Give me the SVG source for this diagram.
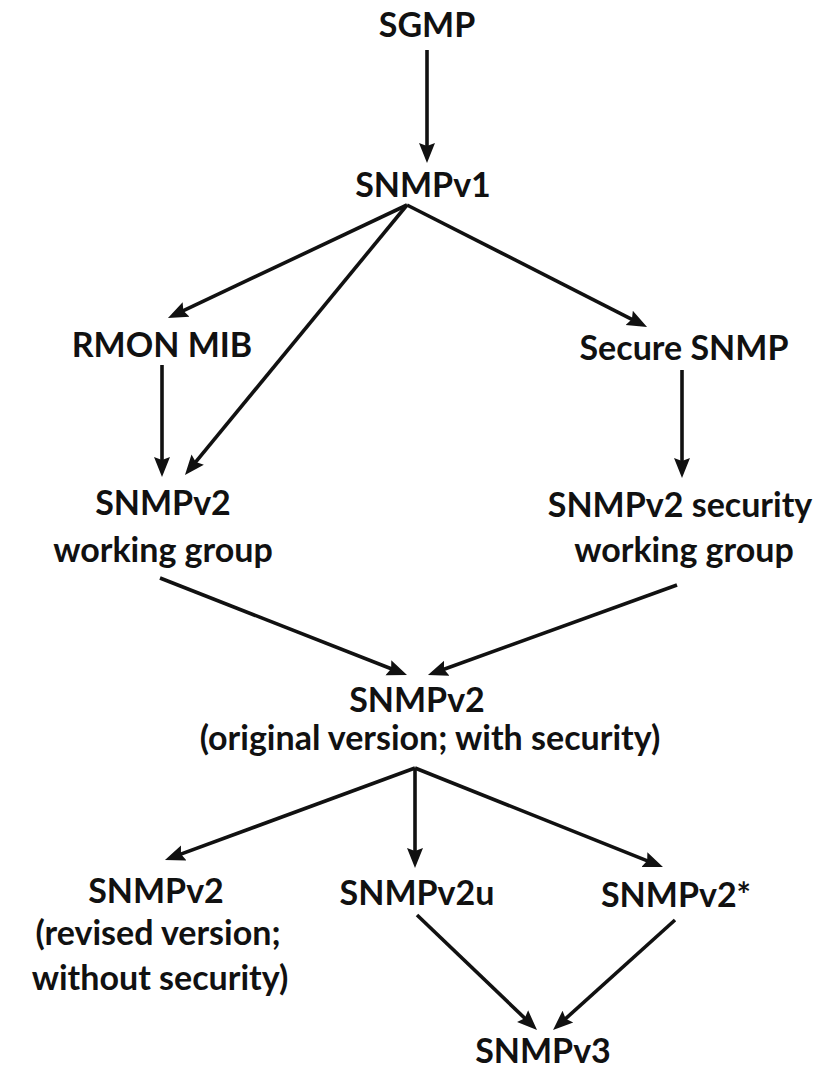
<svg xmlns="http://www.w3.org/2000/svg" width="826" height="1071" viewBox="0 0 826 1071">
  <style>
    .lbl { font-family: Lato, "Open Sans", "Liberation Sans", sans-serif; font-weight: bold; font-size: 34px; fill: #111111; text-anchor: middle; }
    .edge { stroke: #111111; stroke-width: 3.6; fill: none; marker-end: url(#head); }
  </style>
  <defs>
    <marker id="head" markerUnits="userSpaceOnUse" markerWidth="21" markerHeight="18" viewBox="0 0 21 18" refX="14" refY="9" orient="auto">
      <path d="M0,1 L20,9 L0,17 L3,9 Z" fill="#111111"/>
    </marker>
  </defs>
  <rect width="826" height="1071" fill="#ffffff"/>

  <g id="connectors">
    <line class="edge" x1="427" y1="50" x2="427" y2="157"/>
    <line class="edge" x1="407" y1="205" x2="173.4" y2="315.4"/>
    <line class="edge" x1="407" y1="205" x2="188.8" y2="470.4"/>
    <line class="edge" x1="407" y1="205" x2="641.7" y2="324.3"/>
    <line class="edge" x1="162" y1="365" x2="162" y2="471"/>
    <line class="edge" x1="682" y1="370" x2="682" y2="472"/>
    <line class="edge" x1="160" y1="578" x2="401.4" y2="672.8"/>
    <line class="edge" x1="677" y1="585" x2="433.6" y2="673"/>
    <line class="edge" x1="415" y1="768" x2="170.6" y2="857.9"/>
    <line class="edge" x1="415" y1="768" x2="415" y2="862"/>
    <line class="edge" x1="415" y1="768" x2="657.4" y2="864.8"/>
    <line class="edge" x1="417" y1="915" x2="532.7" y2="1025.8"/>
    <line class="edge" x1="675" y1="920" x2="557.5" y2="1026"/>
  </g>

  <g id="sgmp"><text class="lbl" x="427" y="37">SGMP</text></g>
  <g id="snmpv1"><text class="lbl" x="423" y="197">SNMPv1</text></g>
  <g id="rmon-mib"><text class="lbl" x="162" y="357">RMON MIB</text></g>
  <g id="secure-snmp"><text class="lbl" x="684" y="360">Secure SNMP</text></g>
  <g id="snmpv2-wg">
    <text class="lbl" x="163" y="515">SNMPv2</text>
    <text class="lbl" x="163" y="562">working group</text>
  </g>
  <g id="snmpv2-security-wg">
    <text class="lbl" x="680" y="517">SNMPv2 security</text>
    <text class="lbl" x="684" y="562">working group</text>
  </g>
  <g id="snmpv2-original">
    <text class="lbl" x="417" y="712">SNMPv2</text>
    <text class="lbl" x="430" y="750">(original version; with security)</text>
  </g>
  <g id="snmpv2-revised">
    <text class="lbl" x="156" y="903">SNMPv2</text>
    <text class="lbl" x="158" y="945">(revised version;</text>
    <text class="lbl" x="160" y="990">without security)</text>
  </g>
  <g id="snmpv2u"><text class="lbl" x="417" y="905">SNMPv2u</text></g>
  <g id="snmpv2star"><text class="lbl" x="676" y="907">SNMPv2*</text></g>
  <g id="snmpv3"><text class="lbl" x="543" y="1063">SNMPv3</text></g>
</svg>
